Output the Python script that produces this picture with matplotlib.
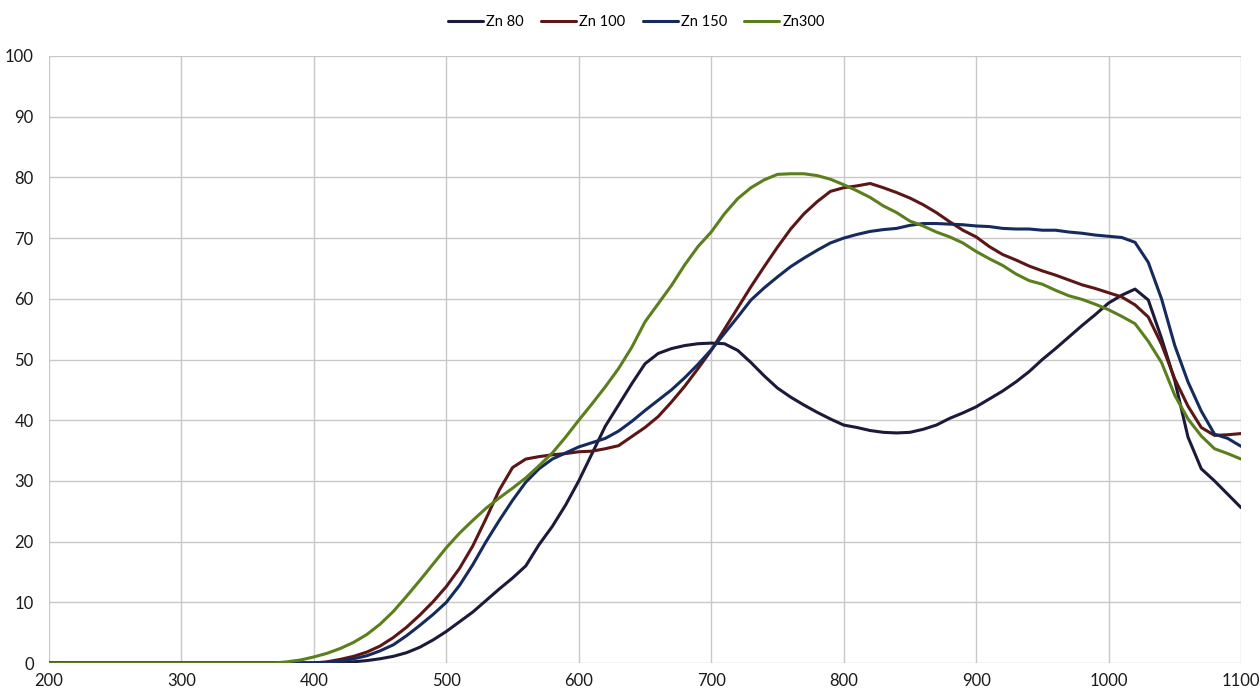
import numpy as np
import matplotlib
matplotlib.use("Agg")
import matplotlib.pyplot as plt

plt.rcParams['font.family'] = ['Lato', 'DejaVu Sans']

wl = [200, 300, 350, 370, 380, 390, 400, 410, 420, 430, 440, 450, 460, 470, 480, 490,
      500, 510, 520, 530, 540, 550, 560, 570, 580, 590, 600, 610, 620, 630, 640, 650,
      660, 670, 680, 690, 700, 710, 720, 730, 740, 750, 760, 770, 780, 790, 800, 810,
      820, 830, 840, 850, 860, 870, 880, 890, 900, 910, 920, 930, 940, 950, 960, 970,
      980, 990, 1000, 1010, 1020, 1030, 1040, 1050, 1060, 1070, 1080, 1090, 1100]

zn80 = [0, 0, 0, 0, 0, 0, 0, 0, 0.1, 0.2, 0.4, 0.7, 1.1, 1.7, 2.6, 3.8,
        5.2, 6.8, 8.4, 10.3, 12.2, 14.0, 16.0, 19.5, 22.5, 26.0, 30.0, 34.5, 39.0, 42.5, 46.0, 49.3,
        51.0, 51.8, 52.3, 52.6, 52.7, 52.6, 51.5, 49.5, 47.3, 45.3, 43.8, 42.5, 41.3, 40.2, 39.2, 38.8,
        38.3, 38.0, 37.9, 38.0, 38.5, 39.2, 40.3, 41.2, 42.2, 43.5, 44.8, 46.3, 48.0, 50.0, 51.8, 53.7,
        55.6, 57.4, 59.3, 60.6, 61.6, 59.8, 53.5, 46.5, 37.2, 32.0, 30.0, 27.8, 25.6]

zn100 = [0, 0, 0, 0, 0, 0, 0, 0.2, 0.6, 1.1, 1.8, 2.8, 4.2, 5.9, 7.9, 10.1,
         12.6, 15.6, 19.3, 23.8, 28.5, 32.2, 33.6, 34.0, 34.3, 34.5, 34.8, 34.9, 35.3, 35.8, 37.3, 38.8,
         40.6, 43.0, 45.6, 48.5, 51.5, 55.0, 58.5, 62.0, 65.3, 68.5, 71.5, 74.0, 76.0, 77.7, 78.3, 78.6,
         79.0, 78.3, 77.5, 76.6, 75.5, 74.2, 72.7, 71.3, 70.2, 68.6, 67.3, 66.4, 65.4, 64.6, 63.9, 63.1,
         62.3, 61.7, 61.0, 60.3, 59.0, 57.0, 52.5, 46.8, 42.3, 38.8, 37.5, 37.6, 37.8]

zn150 = [0, 0, 0, 0, 0, 0, 0, 0.1, 0.3, 0.7, 1.2, 2.0, 3.0, 4.5, 6.2, 8.0,
         10.0, 12.8, 16.2, 20.0, 23.5, 26.8, 29.8, 32.0, 33.6, 34.6, 35.6, 36.3, 37.0, 38.2, 39.8, 41.6,
         43.3, 45.0, 47.0, 49.2, 51.6, 54.3, 57.0, 59.8, 61.8, 63.6, 65.3, 66.7, 68.0, 69.2, 70.0, 70.6,
         71.1, 71.4, 71.6, 72.1, 72.4, 72.4, 72.3, 72.2, 72.0, 71.9, 71.6, 71.5, 71.5, 71.3, 71.3, 71.0,
         70.8, 70.5, 70.3, 70.1, 69.3, 66.0, 60.0, 52.3, 46.3, 41.5, 37.7, 37.0, 35.7]

zn300 = [0, 0, 0, 0, 0.2, 0.5, 1.0, 1.6, 2.4, 3.4, 4.7, 6.4, 8.5, 11.0, 13.6, 16.3,
         19.0, 21.4, 23.5, 25.5, 27.2, 28.8, 30.5, 32.5, 34.6, 37.2, 40.0, 42.7, 45.5, 48.5, 52.0, 56.2,
         59.2, 62.2, 65.6, 68.6, 71.0, 74.0, 76.5, 78.3, 79.6, 80.5, 80.6, 80.6, 80.3, 79.7, 78.8, 77.8,
         76.7, 75.3, 74.2, 72.8, 72.0, 71.0, 70.2, 69.2, 67.8, 66.6, 65.5, 64.1, 63.0, 62.4, 61.4, 60.5,
         59.9, 59.1, 58.2, 57.1, 55.9, 53.0, 49.5, 44.1, 40.2, 37.4, 35.3, 34.5, 33.6]

labels = ["Zn 80", "Zn 100", "Zn 150", "Zn300"]
colors = ["#1b1a3a", "#5c1616", "#152a5e", "#5b7f1c"]
series = [zn80, zn100, zn150, zn300]

fig = plt.figure(figsize=(12.6, 6.91), dpi=100)
ax = fig.add_axes([49/1260, 28/691, (1241-49)/1260, (663-56)/691])

for s, c, lab in zip(series, colors, labels):
    ax.plot(wl, s, color=c, lw=2.2, label=lab, solid_capstyle='round')

ax.set_xlim(200, 1100)
ax.set_ylim(0, 100)
ax.set_xticks(np.arange(200, 1101, 100))
ax.set_yticks(np.arange(0, 101, 10))
ax.grid(True, color="#c8c8c8", lw=1.0)
ax.set_axisbelow(True)
for sp in ax.spines.values():
    sp.set_visible(False)
ax.tick_params(length=0, labelsize=12, colors="#1a1a1a")
ax.tick_params(axis='y', pad=11)
ax.tick_params(axis='x', pad=7)

fig.legend(loc='center', bbox_to_anchor=(0.505, 0.968), ncol=4, frameon=False,
           fontsize=10.5, handlelength=2.4, handletextpad=0.2, columnspacing=1.2)

fig.savefig("out.png", dpi=100)
